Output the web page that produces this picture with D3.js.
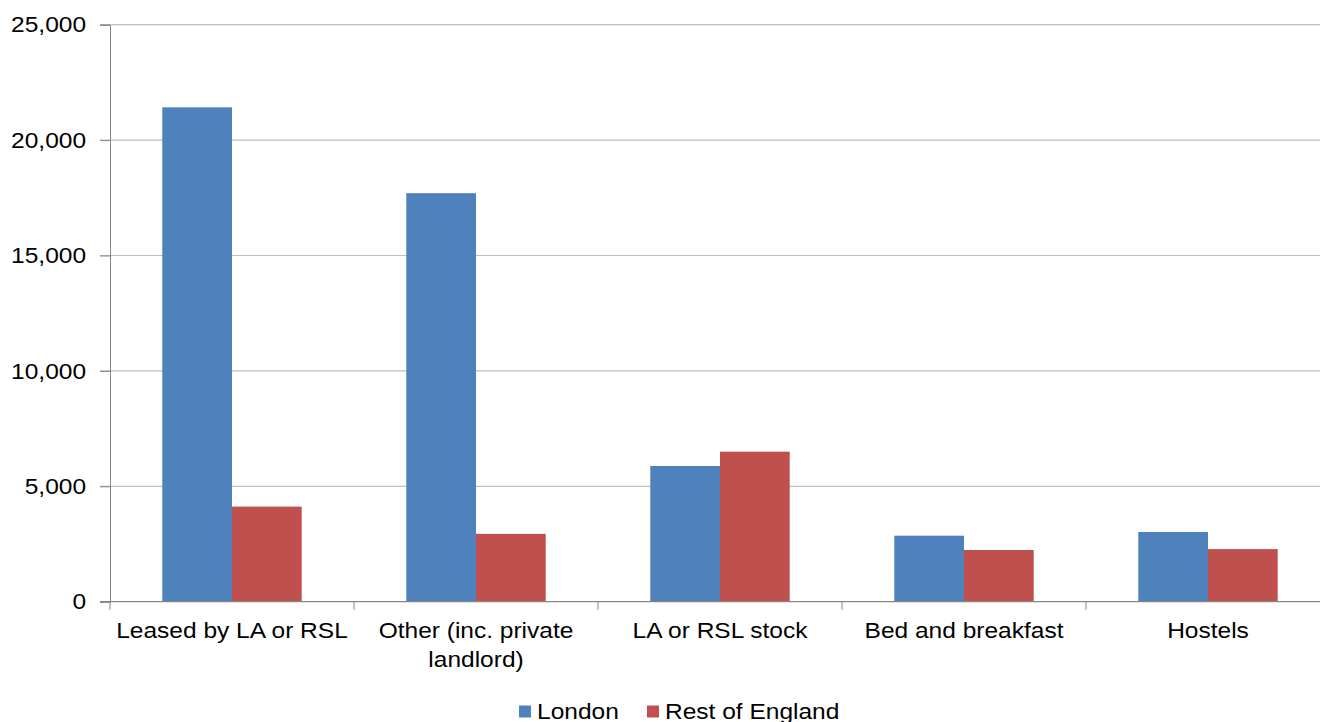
<!DOCTYPE html>
<html>
<head>
<meta charset="utf-8">
<script src="https://cdn.jsdelivr.net/npm/d3@7"></script>
<style>
  html, body { margin: 0; padding: 0; background: #fff; }
  svg text { font-family: "Liberation Sans", Arial, sans-serif; fill: #000; }
</style>
</head>
<body>
<div id="chart"></div>
<script>
const categories = ['Leased by LA or RSL', 'Other (inc. private landlord)', 'LA or RSL stock', 'Bed and breakfast', 'Hostels'];
const categoryLines = [['Leased by LA or RSL'], ['Other (inc. private', 'landlord)'], ['LA or RSL stock'], ['Bed and breakfast'], ['Hostels']];
const seriesNames = ['London', 'Rest of England'];
const london = [21420, 17700, 5880, 2860, 3020];
const restOfEngland = [4120, 2940, 6500, 2240, 2280];
const yTicks = [0, 5000, 10000, 15000, 20000, 25000];

const colors = { 'London': '#4F81BD', 'Rest of England': '#C0504D' };
const width = 1320;
const height = 722;
const stretch = 1.09; // the source text is a little wider than Arial

const rows = categories.map((c, i) => ({
  cat: c,
  lines: categoryLines[i],
  values: [{ name: 'London', v: london[i] }, { name: 'Rest of England', v: restOfEngland[i] }],
}));

const svg = d3.select('#chart').append('svg')
  .attr('width', width)
  .attr('height', height);

const x0 = d3.scaleBand()
  .domain(categories)
  .range([110, 1330])
  .padding(0);

const x1 = d3.scaleBand()
  .domain(seriesNames)
  .range([0, x0.bandwidth()])
  .paddingInner(0)
  .paddingOuter(0.75);

const y = d3.scaleLinear()
  .domain([0, 25000])
  .range([601.7, 24.7]);

// gridlines
svg.append('g')
  .selectAll('line')
  .data(yTicks.filter(d => d > 0))
  .join('line')
  .attr('x1', 100)
  .attr('x2', width)
  .attr('y1', d => y(d))
  .attr('y2', d => y(d))
  .style('stroke', '#BEBEBE')
  .style('stroke-width', 1.2);

// bars
const groups = svg.append('g')
  .selectAll('g')
  .data(rows)
  .join('g')
  .attr('transform', d => `translate(${x0(d.cat)},0)`);

groups.selectAll('rect')
  .data(d => d.values)
  .join('rect')
  .attr('x', d => x1(d.name))
  .attr('y', d => y(d.v))
  .attr('width', x1.bandwidth())
  .attr('height', d => y(0) - y(d.v))
  .style('fill', d => colors[d.name]);

// y axis
const yAxis = svg.append('g')
  .attr('transform', 'translate(110,0)')
  .call(d3.axisLeft(y)
    .tickValues(yTicks)
    .tickFormat(d3.format(','))
    .tickSize(10)
    .tickPadding(12));

yAxis.select('.domain').style('stroke', '#868686');
yAxis.selectAll('.tick line').style('stroke', '#868686');
yAxis.selectAll('.tick text')
  .style('font-size', '22.5px')
  .style('font-family', '"Liberation Sans", Arial, sans-serif')
  .attr('fill', '#000')
  .attr('transform', `scale(${stretch},1)`);

// x axis baseline and category ticks
const xAxis = svg.append('g');
xAxis.append('line')
  .attr('x1', 100)
  .attr('x2', width)
  .attr('y1', y(0))
  .attr('y2', y(0))
  .style('stroke', '#868686')
  .style('stroke-width', 1.2);

xAxis.selectAll('line.tick')
  .data(categories)
  .join('line')
  .attr('class', 'tick')
  .attr('x1', d => x0(d))
  .attr('x2', d => x0(d))
  .attr('y1', y(0))
  .attr('y2', y(0) + 8)
  .style('stroke', '#868686');

const labels = xAxis.selectAll('g.label')
  .data(rows)
  .join('g')
  .attr('class', 'label')
  .attr('transform', d => `translate(${x0(d.cat) + x0.bandwidth() / 2},638) scale(${stretch},1)`);

labels.selectAll('text')
  .data(d => d.lines)
  .join('text')
  .attr('y', (d, i) => i * 29.5)
  .attr('text-anchor', 'middle')
  .style('font-size', '22.5px')
  .text(d => d);

// legend
const legendPos = [519, 647];
const legend = svg.append('g')
  .selectAll('g')
  .data(seriesNames)
  .join('g')
  .attr('transform', (d, i) => `translate(${legendPos[i]},0)`);

legend.append('rect')
  .attr('x', 0)
  .attr('y', 705.5)
  .attr('width', 12)
  .attr('height', 12)
  .style('fill', d => colors[d]);

legend.append('text')
  .attr('transform', `translate(18,719) scale(${stretch},1)`)
  .style('font-size', '22.5px')
  .text(d => d);
</script>
</body>
</html>
